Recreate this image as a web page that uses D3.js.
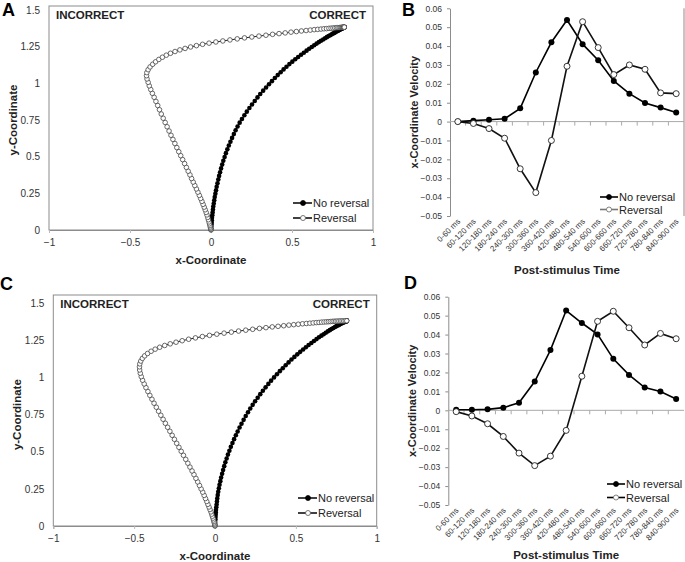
<!DOCTYPE html>
<html><head><meta charset="utf-8">
<script src="https://cdn.jsdelivr.net/npm/d3@7/dist/d3.min.js"></script>
<style>
html,body{margin:0;padding:0;background:#fff;}
svg{display:block;font-family:"Liberation Sans",Arial,sans-serif;}
</style></head><body>
<svg id="chart" width="685" height="562"></svg>
<script>
// ---------- DATA ----------
const timeBins = ["0-60 ms","60-120 ms","120-180 ms","180-240 ms","240-300 ms","300-360 ms","360-420 ms","420-480 ms","480-540 ms","540-600 ms","600-660 ms","660-720 ms","720-780 ms","780-840 ms","840-900 ms"];
const seriesNames = ["No reversal","Reversal"];
const xTicksTraj = [-1,-0.5,0,0.5,1];
const yTicksTraj = [0,0.25,0.5,0.75,1,1.25,1.5];
const yTicksVel = [-0.05,-0.04,-0.03,-0.02,-0.01,0,0.01,0.02,0.03,0.04,0.05,0.06];

// Panel B velocities
const velB_noRev = [0,0.0005,0.001,0.0015,0.007,0.026,0.042,0.0538,0.041,0.0325,0.0215,0.0148,0.0099,0.0074,0.0048];
const velB_rev   = [0,-0.001,-0.0037,-0.0088,-0.025,-0.0376,-0.010,0.0293,0.0529,0.0392,0.0249,0.030,0.0277,0.0152,0.0148];
// Panel D velocities
const velD_noRev = [0.0003,0.0003,0.0005,0.0014,0.004,0.0152,0.0318,0.0527,0.0461,0.0401,0.0272,0.0187,0.012,0.0099,0.006];
const velD_rev   = [-0.0007,-0.003,-0.0071,-0.0138,-0.0226,-0.0292,-0.0242,-0.0106,0.018,0.047,0.0523,0.0436,0.0345,0.0406,0.0378];

// Panel A trajectories (x, y)
const trajA_rev = [[0,0],[0,0.005],[-0.002,0.012],[-0.004,0.02],[-0.006,0.03],[-0.009,0.042],[-0.012,0.055],[-0.016,0.07],[-0.02,0.086],[-0.025,0.103],[-0.03,0.12],[-0.036,0.138],[-0.042,0.156],[-0.049,0.175],[-0.056,0.195],[-0.064,0.215],[-0.072,0.236],[-0.081,0.258],[-0.09,0.28],[-0.1,0.303],[-0.11,0.327],[-0.12,0.351],[-0.13,0.376],[-0.141,0.401],[-0.152,0.427],[-0.163,0.453],[-0.175,0.48],[-0.187,0.507],[-0.199,0.534],[-0.211,0.562],[-0.223,0.59],[-0.235,0.618],[-0.247,0.646],[-0.259,0.675],[-0.271,0.704],[-0.283,0.733],[-0.295,0.762],[-0.307,0.791],[-0.318,0.82],[-0.329,0.849],[-0.34,0.877],[-0.351,0.905],[-0.362,0.932],[-0.372,0.958],[-0.381,0.983],[-0.388,1.007],[-0.395,1.03],[-0.398,1.052],[-0.396,1.073],[-0.388,1.093],[-0.376,1.112],[-0.36,1.13],[-0.342,1.147],[-0.322,1.163],[-0.3,1.178],[-0.276,1.192],[-0.25,1.205],[-0.222,1.217],[-0.192,1.228],[-0.16,1.238],[-0.126,1.248],[-0.09,1.257],[-0.052,1.266],[-0.012,1.274],[0.03,1.282],[0.073,1.289],[0.117,1.296],[0.162,1.303],[0.207,1.31],[0.252,1.316],[0.296,1.322],[0.339,1.328],[0.38,1.334],[0.42,1.339],[0.458,1.344],[0.494,1.349],[0.527,1.353],[0.558,1.357],[0.587,1.36],[0.613,1.363],[0.637,1.366],[0.659,1.368],[0.679,1.37],[0.697,1.372],[0.713,1.373],[0.728,1.375],[0.741,1.376],[0.753,1.377],[0.764,1.378],[0.774,1.379],[0.783,1.38],[0.791,1.38],[0.798,1.381],[0.804,1.381],[0.809,1.382],[0.813,1.382],[0.816,1.382],[0.819,1.383],[0.821,1.383],[0.822,1.383],[0.823,1.383]];
const trajA_noRev = [[0,0],[0.001,0.01],[0.002,0.022],[0.003,0.035],[0.004,0.05],[0.005,0.066],[0.006,0.083],[0.008,0.101],[0.01,0.12],[0.012,0.14],[0.014,0.16],[0.017,0.181],[0.02,0.203],[0.023,0.225],[0.027,0.248],[0.031,0.271],[0.035,0.295],[0.04,0.319],[0.045,0.344],[0.05,0.369],[0.056,0.394],[0.062,0.42],[0.069,0.446],[0.076,0.472],[0.084,0.498],[0.092,0.524],[0.101,0.55],[0.11,0.576],[0.12,0.602],[0.13,0.628],[0.141,0.654],[0.152,0.68],[0.164,0.706],[0.177,0.732],[0.191,0.757],[0.206,0.782],[0.221,0.807],[0.237,0.832],[0.253,0.856],[0.27,0.88],[0.287,0.904],[0.304,0.927],[0.322,0.95],[0.34,0.972],[0.358,0.994],[0.376,1.015],[0.394,1.036],[0.412,1.056],[0.43,1.076],[0.448,1.095],[0.466,1.113],[0.484,1.131],[0.502,1.148],[0.52,1.164],[0.538,1.18],[0.556,1.195],[0.573,1.209],[0.59,1.223],[0.606,1.236],[0.622,1.248],[0.637,1.26],[0.652,1.271],[0.666,1.281],[0.679,1.29],[0.692,1.299],[0.704,1.307],[0.715,1.315],[0.726,1.322],[0.736,1.328],[0.745,1.334],[0.753,1.339],[0.761,1.344],[0.768,1.349],[0.775,1.353],[0.781,1.357],[0.786,1.36],[0.791,1.363],[0.795,1.366],[0.799,1.368],[0.803,1.37],[0.806,1.372],[0.809,1.374],[0.812,1.375],[0.814,1.377],[0.816,1.378],[0.818,1.379],[0.819,1.38],[0.82,1.381],[0.821,1.381],[0.822,1.382],[0.822,1.382],[0.823,1.383],[0.823,1.383],[0.823,1.383],[0.823,1.383],[0.823,1.383],[0.823,1.383],[0.823,1.383],[0.823,1.383],[0.823,1.383],[0.823,1.383]];

// Panel C trajectories (x, y)
const trajC_rev = [[0,0],[-0.001,0.006],[-0.002,0.013],[-0.004,0.021],[-0.006,0.03],[-0.009,0.041],[-0.012,0.053],[-0.016,0.066],[-0.02,0.08],[-0.025,0.095],[-0.031,0.111],[-0.037,0.128],[-0.044,0.146],[-0.051,0.165],[-0.059,0.185],[-0.067,0.206],[-0.076,0.228],[-0.086,0.25],[-0.096,0.273],[-0.107,0.297],[-0.118,0.321],[-0.13,0.346],[-0.142,0.371],[-0.155,0.397],[-0.168,0.423],[-0.181,0.449],[-0.195,0.476],[-0.209,0.503],[-0.223,0.53],[-0.237,0.557],[-0.251,0.584],[-0.265,0.611],[-0.279,0.638],[-0.293,0.665],[-0.307,0.692],[-0.321,0.719],[-0.335,0.746],[-0.349,0.773],[-0.363,0.8],[-0.377,0.827],[-0.39,0.854],[-0.403,0.88],[-0.415,0.906],[-0.427,0.932],[-0.438,0.957],[-0.448,0.982],[-0.456,1.006],[-0.462,1.029],[-0.466,1.051],[-0.467,1.072],[-0.465,1.092],[-0.459,1.111],[-0.449,1.129],[-0.435,1.146],[-0.417,1.162],[-0.395,1.177],[-0.37,1.191],[-0.342,1.204],[-0.311,1.216],[-0.277,1.227],[-0.241,1.238],[-0.203,1.248],[-0.163,1.258],[-0.121,1.267],[-0.078,1.276],[-0.034,1.284],[0.011,1.292],[0.056,1.299],[0.101,1.306],[0.146,1.313],[0.19,1.319],[0.233,1.325],[0.275,1.331],[0.315,1.336],[0.354,1.341],[0.39,1.345],[0.425,1.349],[0.457,1.353],[0.487,1.356],[0.515,1.359],[0.541,1.362],[0.565,1.364],[0.587,1.366],[0.607,1.368],[0.626,1.37],[0.643,1.371],[0.659,1.373],[0.674,1.374],[0.688,1.375],[0.701,1.376],[0.713,1.377],[0.725,1.378],[0.736,1.379],[0.746,1.379],[0.756,1.38],[0.766,1.38],[0.776,1.381],[0.786,1.381],[0.796,1.381],[0.806,1.382],[0.815,1.382]];
const trajC_noRev = [[0,0],[0,0.01],[0.001,0.021],[0.001,0.033],[0.002,0.046],[0.003,0.06],[0.004,0.075],[0.005,0.091],[0.006,0.108],[0.008,0.126],[0.01,0.145],[0.012,0.165],[0.014,0.186],[0.017,0.208],[0.02,0.231],[0.024,0.254],[0.028,0.278],[0.033,0.302],[0.038,0.327],[0.044,0.352],[0.05,0.377],[0.057,0.403],[0.064,0.429],[0.072,0.455],[0.08,0.481],[0.089,0.507],[0.098,0.533],[0.108,0.559],[0.118,0.585],[0.129,0.611],[0.14,0.637],[0.152,0.663],[0.164,0.689],[0.177,0.715],[0.19,0.741],[0.204,0.766],[0.218,0.791],[0.233,0.816],[0.248,0.84],[0.264,0.864],[0.28,0.888],[0.296,0.911],[0.313,0.934],[0.33,0.957],[0.347,0.979],[0.365,1.001],[0.383,1.022],[0.401,1.043],[0.419,1.063],[0.437,1.083],[0.455,1.102],[0.473,1.121],[0.491,1.139],[0.509,1.156],[0.527,1.173],[0.545,1.189],[0.562,1.204],[0.579,1.219],[0.596,1.233],[0.612,1.246],[0.628,1.259],[0.643,1.271],[0.658,1.282],[0.672,1.292],[0.685,1.302],[0.698,1.311],[0.71,1.319],[0.721,1.327],[0.732,1.334],[0.742,1.34],[0.751,1.346],[0.76,1.351],[0.768,1.356],[0.775,1.36],[0.782,1.364],[0.788,1.367],[0.793,1.37],[0.798,1.372],[0.802,1.374],[0.806,1.376],[0.809,1.377],[0.811,1.378],[0.813,1.379],[0.814,1.38],[0.815,1.381],[0.815,1.382],[0.815,1.382],[0.815,1.382],[0.815,1.382],[0.815,1.382],[0.815,1.382],[0.815,1.382],[0.815,1.382],[0.815,1.382],[0.815,1.382],[0.815,1.382],[0.815,1.382],[0.815,1.382],[0.815,1.382],[0.815,1.382],[0.815,1.382]];

// ---------- DRAWING ----------
const svg = d3.select("#chart");
const AX = "#8c8c8c", TXT = "#333";

function panelLetter(t, x, y){
  svg.append("text").attr("x",x).attr("y",y).text(t)
    .attr("font-size",18).attr("font-weight","bold").attr("fill","#000");
}

function drawTraj(o){
  const x = d3.scaleLinear().domain([-1,1]).range([o.l,o.r]);
  const y = d3.scaleLinear().domain([0,1.5]).range([o.b,o.t]);
  const g = svg.append("g");
  // box
  g.append("rect").attr("x",o.l).attr("y",o.boxTop).attr("width",o.r-o.l).attr("height",o.b-o.boxTop)
    .attr("fill","none").attr("stroke",AX).attr("stroke-width",1);
  // x axis
  const xa = g.append("g").attr("transform",`translate(0,${o.b})`)
    .call(d3.axisBottom(x).tickValues(xTicksTraj).tickFormat(d3.format("")).tickSize(3).tickPadding(6));
  xa.select(".domain").attr("stroke",AX);
  xa.selectAll(".tick line").attr("stroke","#bbb");
  xa.selectAll("text").attr("font-size",10).attr("fill",TXT);
  // y axis
  const ya = g.append("g").attr("transform",`translate(${o.l},0)`)
    .call(d3.axisLeft(y).tickValues(yTicksTraj).tickFormat(d3.format("")).tickSize(0).tickPadding(o.ypad));
  ya.select(".domain").remove();
  ya.selectAll("text").attr("font-size",10).attr("fill",TXT);
  // titles
  g.append("text").attr("x",(o.l+o.r)/2).attr("y",o.xTitleY).attr("text-anchor","middle")
    .attr("font-size",11.5).attr("font-weight","bold").attr("fill","#222").text("x-Coordinate");
  g.append("text").attr("transform",`translate(${o.yTitleX},${(o.t+o.b)/2}) rotate(-90)`).attr("text-anchor","middle")
    .attr("font-size",11.5).attr("font-weight","bold").attr("fill","#222").text("y-Coordinate");
  g.append("text").attr("x",o.l+7).attr("y",o.boxTop+13).attr("font-size",11.5).attr("font-weight","bold").attr("fill","#222").text("INCORRECT");
  g.append("text").attr("x",o.r-7).attr("y",o.boxTop+13).attr("text-anchor","end").attr("font-size",11.5).attr("font-weight","bold").attr("fill","#222").text("CORRECT");
  const line = d3.line().x(d=>x(d[0])).y(d=>y(d[1]));
  // no reversal
  g.append("path").datum(o.noRev).attr("d",line).attr("fill","none").attr("stroke","#000").attr("stroke-width",1.2);
  g.selectAll(".nr").data(o.noRev).enter().append("circle").attr("cx",d=>x(d[0])).attr("cy",d=>y(d[1])).attr("r",2.3).attr("fill","#000");
  // reversal
  g.append("path").datum(o.rev).attr("d",line).attr("fill","none").attr("stroke","#222").attr("stroke-width",1);
  g.selectAll(".rv").data(o.rev).enter().append("circle").attr("cx",d=>x(d[0])).attr("cy",d=>y(d[1])).attr("r",2.3)
    .attr("fill","#fff").attr("stroke","#444").attr("stroke-width",0.8);
  // legend
  const lg = g.append("g");
  [[seriesNames[0],true],[seriesNames[1],false]].forEach((s,i)=>{
    const yy = o.legY + i*15;
    lg.append("line").attr("x1",o.legX).attr("x2",o.legX+19).attr("y1",yy).attr("y2",yy).attr("stroke","#000").attr("stroke-width",1.5);
    lg.append("circle").attr("cx",o.legX+10).attr("cy",yy).attr("r",2.5).attr("fill",s[1]?"#000":"#fff").attr("stroke",s[1]?"#000":"#555").attr("stroke-width",0.8);
    lg.append("text").attr("x",o.legX+20).attr("y",yy+4).attr("font-size",11).attr("fill","#222").text(s[0]);
  });
}

function drawVel(o){
  const x = d3.scalePoint().domain(timeBins).range([o.l,o.r]).padding(0.5);
  const y = d3.scaleLinear().domain([-0.05,0.06]).range([o.b,o.t]);
  const g = svg.append("g");
  const ya = g.append("g").attr("transform",`translate(${o.l},0)`)
    .call(d3.axisLeft(y).tickValues(yTicksVel).tickFormat(d=>d===0?"0":d3.format(".2f")(d)).tickSize(3).tickSizeOuter(0).tickPadding(5));
  ya.select(".domain").attr("stroke",AX);
  ya.selectAll(".tick line").attr("stroke",AX);
  ya.selectAll("text").attr("font-size",8.5).attr("fill",TXT);
  if(o.rightLine) g.append("line").attr("x1",o.r).attr("x2",o.r).attr("y1",o.t).attr("y2",o.b).attr("stroke",AX);
  // zero axis
  g.append("line").attr("x1",o.l).attr("x2",o.r).attr("y1",y(0)).attr("y2",y(0)).attr("stroke","#aaa");
  const step = x.step();
  d3.range(1,timeBins.length).forEach(i=>{
    const xx = o.l + i*step;
    g.append("line").attr("x1",xx).attr("x2",xx).attr("y1",y(0)).attr("y2",y(0)+4).attr("stroke","#aaa");
  });
  // category labels
  g.selectAll(".cl").data(timeBins).enter().append("text")
    .attr("transform",d=>`translate(${x(d)+3},${o.b+6}) rotate(-45)`)
    .attr("text-anchor","end").attr("font-size",8).attr("fill",TXT).text(d=>d);
  g.append("text").attr("x",(o.l+o.r)/2).attr("y",o.xTitleY).attr("text-anchor","middle")
    .attr("font-size",11.5).attr("font-weight","bold").attr("fill","#222").text("Post-stimulus Time");
  g.append("text").attr("transform",`translate(${o.yTitleX},${(o.t+o.b)/2}) rotate(-90)`).attr("text-anchor","middle")
    .attr("font-size",11).attr("font-weight","bold").attr("fill","#222").text("x-Coordinate Velocity");
  const line = d3.line().x((d,i)=>x(timeBins[i])).y(d=>y(d));
  g.append("path").datum(o.noRev).attr("d",line).attr("fill","none").attr("stroke","#000").attr("stroke-width",1.6);
  g.append("path").datum(o.rev).attr("d",line).attr("fill","none").attr("stroke","#111").attr("stroke-width",1.6);
  g.selectAll(".nr").data(o.noRev).enter().append("circle").attr("cx",(d,i)=>x(timeBins[i])).attr("cy",d=>y(d)).attr("r",3).attr("fill","#000");
  g.selectAll(".rv").data(o.rev).enter().append("circle").attr("cx",(d,i)=>x(timeBins[i])).attr("cy",d=>y(d)).attr("r",3)
    .attr("fill","#fff").attr("stroke","#222").attr("stroke-width",0.9);
  [[seriesNames[0],true],[seriesNames[1],false]].forEach((s,i)=>{
    const yy = o.legY + i*o.legGap;
    g.append("line").attr("x1",o.legX).attr("x2",o.legX+18).attr("y1",yy).attr("y2",yy).attr("stroke",s[1]?"#000":o.revLegColor).attr("stroke-width",1.6);
    g.append("circle").attr("cx",o.legX+9).attr("cy",yy).attr("r",2.5).attr("fill",s[1]?"#000":"#fff").attr("stroke",s[1]?"#000":"#666").attr("stroke-width",0.8);
    g.append("text").attr("x",o.legX+19).attr("y",yy+4).attr("font-size",11).attr("fill","#222").text(s[0]);
  });
}

drawTraj({l:49,r:373,t:10,b:230,boxTop:6,ypad:9,xTitleY:264,yTitleX:17,legX:293,legY:203,noRev:trajA_noRev,rev:trajA_rev});
drawTraj({l:53.3,r:376.7,t:303.3,b:526,boxTop:295,ypad:9,xTitleY:560,yTitleX:21,legX:298,legY:498,noRev:trajC_noRev,rev:trajC_rev});
drawVel({l:450,r:684,t:8.3,b:216,xTitleY:274,yTitleX:418,legX:600,legY:197,legGap:12.5,revLegColor:"#777",rightLine:true,noRev:velB_noRev,rev:velB_rev});
drawVel({l:448.3,r:684,t:296.7,b:505,xTitleY:559,yTitleX:416,legX:607,legY:484,legGap:13.5,revLegColor:"#000",rightLine:false,noRev:velD_noRev,rev:velD_rev});

panelLetter("A",2,16);
panelLetter("B",402,16);
panelLetter("C",0,290);
panelLetter("D",404,289);
</script>
</body></html>
